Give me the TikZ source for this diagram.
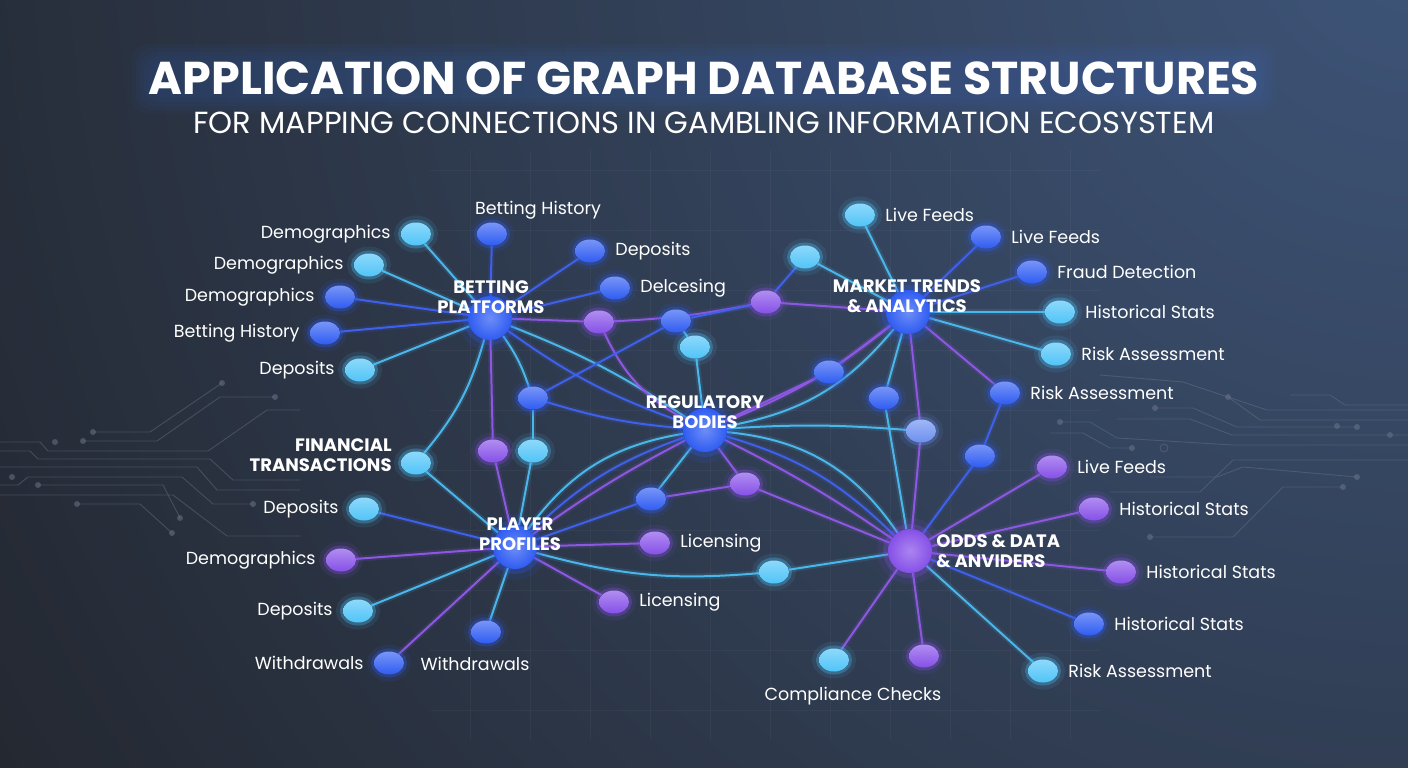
\documentclass[tikz,border=0pt]{standalone}
\usepackage{fontspec}
\setmainfont{Poppins}
\usetikzlibrary{positioning,shapes.geometric}

\pgfdeclarelayer{back}
\pgfdeclarelayer{wires}
\pgfsetlayers{back,wires,main}

\definecolor{bgdark}{HTML}{1F2024}
\definecolor{bgblue}{HTML}{3E5579}
\definecolor{trace}{HTML}{6A7488}
\definecolor{glowblue}{HTML}{3F74E0}
\definecolor{cyanode}{HTML}{50C4F8}
\definecolor{bluenode}{HTML}{2F5CF2}
\definecolor{purpnode}{HTML}{8650E8}
\definecolor{perinode}{HTML}{6C90F0}
\definecolor{cyanedge}{HTML}{4AB6EA}
\definecolor{blueedge}{HTML}{3F60E8}
\definecolor{purpedge}{HTML}{8C58E2}

\newcommand\lblsize{\fontsize{17.5}{21}\selectfont}
\newcommand\hubsize{\fontsize{18}{20.5}\selectfont}

\begin{document}
\begin{tikzpicture}[x=1pt, y=-1pt,
    leaf/.style={ellipse, minimum width=30pt, minimum height=23pt, inner sep=0pt,
      preaction={draw=#1, line width=14pt, opacity=.10},
      preaction={draw=#1, line width=6pt, opacity=.30},
      top color=#1!65!white, bottom color=#1},
    hub/.style={circle, minimum size=44pt, inner sep=0pt,
      preaction={draw=#1, line width=22pt, opacity=.10},
      preaction={draw=#1, line width=10pt, opacity=.25},
      inner color=#1!70!white, outer color=#1},
    lbl/.style={text=white, font=\lblsize, inner sep=1pt},
    hubtext/.style={text=white, font=\hubsize\bfseries, align=center, inner sep=0pt},
    wire/.style={draw=#1, line width=2pt,
      preaction={draw=#1, line width=6pt, opacity=.14}},
    cyw/.style={wire=cyanedge},
    blw/.style={wire=blueedge},
    puw/.style={wire=purpedge},
    trc/.style={draw=trace, line width=.9pt, opacity=.45},
    tdot/.style={fill=trace, opacity=.55}]

  \useasboundingbox (0,0) rectangle (1408,768);

  % backdrop
  \begin{pgfonlayer}{back}
    \fill[bgdark] (0,0) rectangle (1408,768);
    \begin{scope}
      \clip (0,0) rectangle (1408,768);
      \shade[inner color=bgblue, outer color=bgdark] (1420,-80) circle (1950);
    \end{scope}
    % faint floor grid
    \foreach \gx in {470,530,...,1070}
      \draw[white, opacity=.035, line width=.8pt] (\gx,150) -- (\gx,740);
    \foreach \gy in {170,230,...,730}
      \draw[white, opacity=.035, line width=.8pt] (430,\gy) -- (1100,\gy);

    % circuit traces, left
    \draw[trc] (0,442) -- (40,442) -- (48,451) -- (208,451) -- (267,410) -- (300,410);
    \draw[trc] (0,451) -- (30,451) -- (38,459) -- (210,459) -- (233,480) -- (300,480);
    \draw[trc] (0,467) -- (197,467) -- (217,490) -- (300,490);
    \draw[trc] (0,485) -- (18,485) -- (28,477) -- (182,477) -- (213,504) -- (253,504);
    \draw[trc] (0,495) -- (173,495) -- (227,536) -- (300,536);
    \draw[trc] (38,485) -- (163,485) -- (180,518);
    \draw[trc] (77,504) -- (140,504) -- (172,533);
    \draw[trc] (93,432) -- (150,432) -- (222,383);
    \draw[trc] (83,441) -- (157,441) -- (220,397) -- (275,397);
    \foreach \p in {(180,518),(38,485),(77,504),(172,533),(93,432),(222,383),(83,441),(275,397),(55,442),(12,477),(253,504)}
      \fill[tdot] \p circle (3);

    % circuit traces, right
    \draw[trc] (1100,375) -- (1183,382) -- (1267,410) -- (1408,410);
    \draw[trc] (1228,397) -- (1260,420) -- (1408,420);
    \draw[trc] (1155,408) -- (1193,408) -- (1237,427) -- (1357,427);
    \draw[trc] (1117,419) -- (1190,419) -- (1232,435) -- (1408,435);
    \draw[trc] (1060,422) -- (1090,422) -- (1117,438) -- (1233,445) -- (1408,445);
    \draw[trc] (1050,433) -- (1083,433) -- (1110,448) -- (1132,448);
    \draw[trc] (1110,492) -- (1200,492) -- (1233,460) -- (1408,460);
    \draw[trc] (1150,477) -- (1217,477) -- (1243,467) -- (1357,477);
    \draw[trc] (1150,537) -- (1233,537) -- (1283,487) -- (1343,487);
    \draw[trc] (1290,395) -- (1330,395) -- (1345,405) -- (1408,405);
    \foreach \p in {(1228,397),(1155,408),(1357,427),(1060,422),(1132,448),(1357,477),(1150,537),(1343,487),(1337,426),(1390,435)}
      \fill[tdot] \p circle (3);
    \draw[trace, opacity=.5, line width=.8pt] (1164,448) circle (4);

    % soft halo behind the heading
    \foreach \g in {2,6,...,18}
      \fill[glowblue, opacity=.045, rounded corners=16pt] (150-\g,62-\g) rectangle (1258+\g,96+\g);
  \end{pgfonlayer}

  % heading
  \node[text=white, font=\fontsize{46}{50}\selectfont\bfseries] (title) at (704,78) {APPLICATION OF GRAPH DATABASE STRUCTURES};
  \node[text=white, font=\fontsize{30.5}{33}\selectfont] (subtitle) at (704,123) {FOR MAPPING CONNECTIONS IN GAMBLING INFORMATION ECOSYSTEM};

  % hubs
  \node[hub=bluenode] (bp) at (490,318) {};
  \node[hubtext] (bpt) at (491,297) {BETTING\\PLATFORMS};
  \node[hub=bluenode] (mt) at (908,312) {};
  \node[hubtext] (mtt) at (907,296) {MARKET TRENDS\\\& ANALYTICS};
  \node[hub=bluenode] (rb) at (705,430) {};
  \node[hubtext] (rbt) at (705,412) {REGULATORY\\BODIES};
  \node[hub=bluenode] (pp) at (515,547) {};
  \node[hubtext] (ppt) at (520,534) {PLAYER\\PROFILES};
  \node[hub=purpnode] (od) at (910,551) {};
  \node[hubtext, align=left, right=4pt of od] (odt) {ODDS \& DATA\\\& ANVIDERS};

  % betting platforms leaves
  \node[leaf=cyanode] (bd1) at (416,234) {};
  \node[lbl, left=9pt of bd1] (bd1t) {Demographics};
  \node[leaf=cyanode] (bd2) at (369,265) {};
  \node[lbl, left=9pt of bd2] (bd2t) {Demographics};
  \node[leaf=bluenode] (bd3) at (340,297) {};
  \node[lbl, left=9pt of bd3] (bd3t) {Demographics};
  \node[leaf=bluenode] (bh1) at (325,333) {};
  \node[lbl, left=9pt of bh1] (bh1t) {Betting History};
  \node[leaf=cyanode] (bdp) at (360,370) {};
  \node[lbl, left=9pt of bdp] (bdpt) {Deposits};
  \node[leaf=bluenode] (bh2) at (492,234) {};
  \node[lbl] (bh2t) at (538,210) {Betting History};
  \node[leaf=bluenode] (bdp2) at (590,251) {};
  \node[lbl, right=9pt of bdp2] (bdp2t) {Deposits};
  \node[leaf=bluenode] (bdl) at (615,288) {};
  \node[lbl, right=9pt of bdl] (bdlt) {Delcesing};

  % middle nodes
  \node[leaf=purpnode] (m1) at (599,322) {};
  \node[leaf=bluenode] (m2) at (676,321) {};
  \node[leaf=cyanode] (m3) at (695,347) {};
  \node[leaf=purpnode] (m4) at (766,302) {};
  \node[leaf=cyanode] (m5) at (805,257) {};
  \node[leaf=bluenode] (m6) at (533,398) {};
  \node[leaf=purpnode] (m7) at (493,451) {};
  \node[leaf=cyanode] (m8) at (533,451) {};
  \node[leaf=cyanode] (ft) at (416,463) {};
  \node[hubtext, align=right, left=9pt of ft, yshift=8pt] (ftt) {FINANCIAL\\TRANSACTIONS};
  \node[leaf=bluenode] (m9) at (829,372) {};
  \node[leaf=bluenode] (m10) at (884,398) {};
  \node[leaf=perinode] (m11) at (921,431) {};
  \node[leaf=bluenode] (mra) at (1005,393) {};
  \node[lbl, right=9pt of mra] (mrat) {Risk Assessment};
  \node[leaf=bluenode] (m12) at (980,456) {};
  \node[leaf=bluenode] (m13) at (651,499) {};
  \node[leaf=purpnode] (m14) at (745,484) {};
  \node[leaf=purpnode] (pl1) at (655,543) {};
  \node[lbl, right=9pt of pl1] (pl1t) {Licensing};
  \node[leaf=purpnode] (pl2) at (614,602) {};
  \node[lbl, right=9pt of pl2] (pl2t) {Licensing};
  \node[leaf=cyanode] (m15) at (774,572) {};

  % market trends leaves
  \node[leaf=cyanode] (mf1) at (860,215) {};
  \node[lbl, right=9pt of mf1] (mf1t) {Live Feeds};
  \node[leaf=bluenode] (mf2) at (986,237) {};
  \node[lbl, right=9pt of mf2] (mf2t) {Live Feeds};
  \node[leaf=bluenode] (mfd) at (1032,272) {};
  \node[lbl, right=9pt of mfd] (mfdt) {Fraud Detection};
  \node[leaf=cyanode] (mhs) at (1060,312) {};
  \node[lbl, right=9pt of mhs] (mhst) {Historical Stats};
  \node[leaf=cyanode] (mrs) at (1056,354) {};
  \node[lbl, right=9pt of mrs] (mrst) {Risk Assessment};

  % odds & data leaves
  \node[leaf=purpnode] (of1) at (1052,467) {};
  \node[lbl, right=9pt of of1] (of1t) {Live Feeds};
  \node[leaf=purpnode] (oh1) at (1094,509) {};
  \node[lbl, right=9pt of oh1] (oh1t) {Historical Stats};
  \node[leaf=purpnode] (oh2) at (1121,572) {};
  \node[lbl, right=9pt of oh2] (oh2t) {Historical Stats};
  \node[leaf=bluenode] (oh3) at (1089,624) {};
  \node[lbl, right=9pt of oh3] (oh3t) {Historical Stats};
  \node[leaf=cyanode] (ora) at (1043,671) {};
  \node[lbl, right=9pt of ora] (orat) {Risk Assessment};
  \node[leaf=cyanode] (oc1) at (834,660) {};
  \node[leaf=purpnode] (oc2) at (924,656) {};
  \node[lbl] (cct) at (853,696) {Compliance Checks};

  % player profiles leaves
  \node[leaf=cyanode] (pdp1) at (364,509) {};
  \node[lbl, left=9pt of pdp1] (pdp1t) {Deposits};
  \node[leaf=purpnode] (pdm) at (341,560) {};
  \node[lbl, left=9pt of pdm] (pdmt) {Demographics};
  \node[leaf=cyanode] (pdp2) at (358,611) {};
  \node[lbl, left=9pt of pdp2] (pdp2t) {Deposits};
  \node[leaf=bluenode] (pw1) at (389,663) {};
  \node[lbl, left=9pt of pw1] (pw1t) {Withdrawals};
  \node[leaf=bluenode] (pw2) at (486,632) {};
  \node[lbl] (pw2t) at (475,664) {Withdrawals};

  \begin{pgfonlayer}{wires}
    % betting platforms
    \draw[cyw] (bp) -- (bd1);
    \draw[cyw] (bp) -- (bd2);
    \draw[blw] (bp) -- (bd3);
    \draw[blw] (bp) -- (bh1);
    \draw[cyw] (bp) -- (bdp);
    \draw[blw] (bp) -- (bh2);
    \draw[blw] (bp) -- (bdp2);
    \draw[blw] (bp) -- (bdl);
    \draw[puw] (bp) -- (m1);
    \draw[cyw] (bp) to[bend left=8] (m6);
    \draw[puw] (bp) -- (m7);
    \draw[cyw] (bp) to[bend left=12] (ft);
    \draw[cyw] (bp) to[bend left=6] (rb);
    \draw[blw] (bp) to[bend right=8] (rb);
    % middle links
    \draw[puw] (m1) to[bend right=4] (m4);
    \draw[puw] (m1) to[bend right=18] (rb);
    \draw[blw] (m2) -- (m4);
    \draw[cyw] (m2) -- (m3);
    \draw[cyw] (m3) -- (rb);
    \draw[blw] (m2) -- (m6);
    \draw[blw] (m6) to[bend right=6] (rb);
    \draw[cyw] (m6) -- (m8);
    \draw[cyw] (m8) -- (pp);
    \draw[puw] (m7) -- (pp);
    \draw[cyw] (ft) -- (pp);
    \draw[blw] (m4) -- (m5);
    \draw[cyw] (m5) -- (mt);
    \draw[puw] (m4) -- (mt);
    % market trends
    \draw[cyw] (mt) -- (mf1);
    \draw[blw] (mt) -- (mf2);
    \draw[blw] (mt) -- (mfd);
    \draw[cyw] (mt) -- (mhs);
    \draw[cyw] (mt) -- (mrs);
    \draw[puw] (mt) -- (mra);
    \draw[puw] (mt) -- (m9);
    \draw[puw] (m9) -- (rb);
    \draw[cyw] (mt) to[bend left=20] (rb);
    \draw[puw] (mt) to[bend left=8] (rb);
    \draw[cyw] (mt) -- (m10);
    \draw[cyw] (m10) -- (od);
    \draw[puw] (mt) -- (m11);
    \draw[puw] (m11) -- (od);
    \draw[blw] (mra) -- (m12);
    \draw[blw] (m12) -- (od);
    % regulatory bodies
    \draw[cyw] (rb) to[bend left=4] (m11);
    \draw[cyw] (rb) to[bend left=25] (od);
    \draw[blw] (rb) to[bend left=14] (od);
    \draw[puw] (rb) to[bend left=4] (od);
    \draw[puw] (rb) -- (m14);
    \draw[puw] (m14) -- (od);
    \draw[cyw] (rb) -- (m13);
    \draw[puw] (m13) -- (m14);
    \draw[blw] (m13) -- (pp);
    \draw[cyw] (rb) to[bend right=22] (pp);
    \draw[blw] (rb) to[bend right=12] (pp);
    \draw[puw] (rb) to[bend right=4] (pp);
    % player profiles
    \draw[puw] (pp) -- (pl1);
    \draw[puw] (pp) -- (pl2);
    \draw[cyw] (pp) to[bend right=10] (m15);
    \draw[cyw] (m15) -- (od);
    \draw[blw] (pp) -- (pdp1);
    \draw[puw] (pp) -- (pdm);
    \draw[cyw] (pp) -- (pdp2);
    \draw[puw] (pp) -- (pw1);
    \draw[cyw] (pp) -- (pw2);
    % odds & data
    \draw[puw] (od) -- (of1);
    \draw[puw] (od) -- (oh1);
    \draw[puw] (od) -- (oh2);
    \draw[blw] (od) -- (oh3);
    \draw[cyw] (od) -- (ora);
    \draw[puw] (od) -- (oc1);
    \draw[puw] (od) -- (oc2);
  \end{pgfonlayer}
\end{tikzpicture}
\end{document}
